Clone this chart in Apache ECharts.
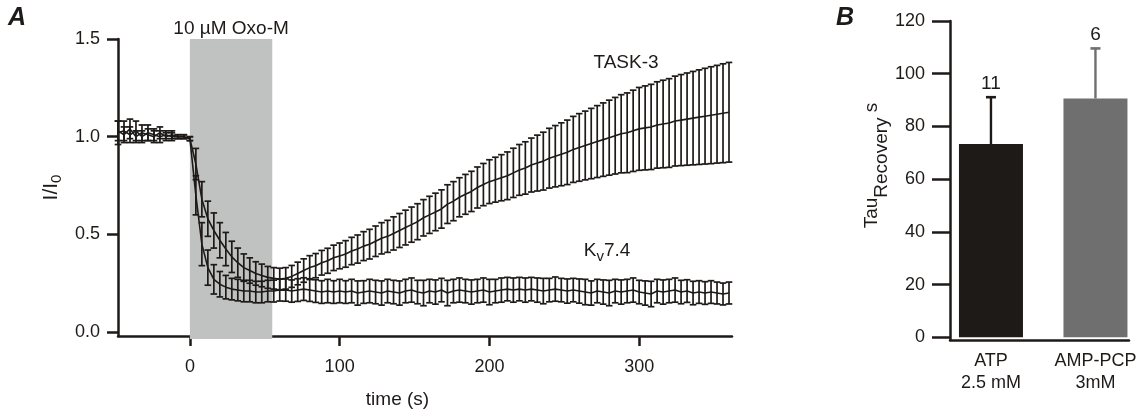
<!DOCTYPE html>
<html><head><meta charset="utf-8">
<script src="https://cdn.jsdelivr.net/npm/echarts@6/dist/echarts.min.js"></script>
<style>html,body{margin:0;padding:0;background:#fff}#c{width:1146px;height:414px}</style>
</head><body><div id="c"></div>
<script>
// ---------- Panel A data ----------
const times = [-48,-44,-40,-36,-32,-28,-24,-20,-16,-12,-8,-4,
  0,4,8,12,16,20,24,28,32,36,40,44,48,52,56,60,64,68,72,76,80,84,88,92,96,
  100,104,108,112,116,120,124,128,132,136,140,144,148,152,156,160,164,168,172,176,180,184,188,192,196,
  200,204,208,212,216,220,224,228,232,236,240,244,248,252,256,260,264,268,272,276,280,284,288,292,296,
  300,304,308,312,316,320,324,328,332,336,340,344,348,352,356,360];

const task3Mean = [1.02,1.03,1.01,1.03,1.00,1.02,1.01,1.00,1.01,1.00,1.00,1.00,
  0.99,0.86,0.68,0.58,0.52,0.47,0.425,0.385,0.355,0.33,0.315,0.30,0.29,0.28,0.275,0.272,0.275,0.285,0.30,0.315,0.33,0.34,0.355,0.365,0.38,
  0.39,0.40,0.415,0.425,0.44,0.45,0.465,0.48,0.49,0.505,0.52,0.535,0.55,0.565,0.585,0.60,0.615,0.63,0.655,0.67,0.69,0.705,0.72,0.74,0.755,
  0.77,0.78,0.79,0.80,0.815,0.83,0.84,0.855,0.865,0.875,0.89,0.90,0.91,0.92,0.935,0.945,0.955,0.965,0.975,0.985,0.995,1.005,1.015,1.02,1.03,
  1.04,1.045,1.05,1.06,1.065,1.07,1.08,1.085,1.09,1.095,1.10,1.105,1.11,1.115,1.12,1.125];

const task3Err = [0.06,0.05,0.04,0.05,0.03,0.04,0.03,0.03,0.02,0.02,0.01,0.01,
  0.01,0.08,0.09,0.09,0.09,0.09,0.085,0.08,0.075,0.07,0.065,0.06,0.058,0.056,0.055,0.055,0.055,0.056,0.058,0.06,0.061,0.062,0.063,0.064,0.065,
  0.066,0.068,0.07,0.072,0.074,0.076,0.078,0.08,0.082,0.085,0.087,0.089,0.09,0.092,0.093,0.095,0.096,0.098,0.099,0.10,0.10,0.102,0.103,0.105,0.108,
  0.112,0.115,0.118,0.122,0.126,0.13,0.134,0.138,0.143,0.148,0.153,0.157,0.161,0.165,0.169,0.173,0.176,0.18,0.184,0.188,0.192,0.196,0.2,0.204,0.208,
  0.212,0.215,0.218,0.221,0.224,0.227,0.23,0.233,0.236,0.239,0.242,0.245,0.248,0.25,0.253,0.255];

const kvMean = [1.03,1.01,1.04,1.00,1.02,1.01,1.00,1.02,1.00,1.01,1.00,1.00,
  0.99,0.70,0.45,0.33,0.27,0.245,0.23,0.22,0.215,0.21,0.21,0.205,0.205,0.21,0.21,0.215,0.215,0.21,0.215,0.22,0.215,0.21,0.205,0.21,0.205,
  0.21,0.205,0.21,0.20,0.205,0.21,0.205,0.20,0.21,0.205,0.20,0.21,0.215,0.205,0.20,0.21,0.205,0.215,0.20,0.21,0.215,0.21,0.205,0.21,0.215,
  0.205,0.21,0.215,0.22,0.215,0.22,0.215,0.22,0.215,0.21,0.215,0.22,0.215,0.21,0.215,0.21,0.205,0.20,0.21,0.205,0.20,0.21,0.205,0.21,0.215,
  0.205,0.20,0.195,0.21,0.205,0.21,0.215,0.205,0.21,0.20,0.205,0.20,0.205,0.20,0.195,0.20];

const kvErr = [0.05,0.04,0.05,0.03,0.04,0.03,0.03,0.03,0.02,0.02,0.01,0.01,
  0.01,0.10,0.11,0.09,0.075,0.065,0.06,0.055,0.055,0.055,0.055,0.055,0.055,0.055,0.056,0.056,0.057,0.057,0.058,0.058,0.058,0.058,0.058,0.06,0.058,
  0.06,0.058,0.06,0.062,0.058,0.06,0.06,0.062,0.06,0.06,0.062,0.06,0.062,0.06,0.065,0.06,0.062,0.06,0.065,0.06,0.062,0.06,0.062,0.06,0.062,
  0.065,0.06,0.062,0.06,0.062,0.06,0.062,0.06,0.062,0.065,0.06,0.062,0.06,0.062,0.06,0.062,0.065,0.062,0.06,0.062,0.065,0.06,0.062,0.06,0.062,
  0.06,0.062,0.065,0.06,0.062,0.06,0.062,0.06,0.058,0.06,0.058,0.058,0.058,0.056,0.056,0.056];

const oxoWindow = [0, 55];
const oxoLabel = '10 µM Oxo-M';
const xTicksA = [0, 100, 200, 300];
const yTicksA = [0, 0.5, 1.0, 1.5];

// ---------- Panel B data ----------
const barCategories = ['ATP\n2.5 mM', 'AMP-PCP\n3mM'];
const barPositions = [1, 2];
const barValues = [73.3, 90.6];
const barErrors = [17.8, 19.0];
const barN = ['11', '6'];
const yTicksB = [0, 20, 40, 60, 80, 100, 120];

// ---------- styles ----------
const INK = '#1e1a18';
const FONT = '"Liberation Sans", Arial, Helvetica, sans-serif';
const barColors = ['#1e1a18', '#6f6f6f'];
const Y_MIN_A = -0.02, Y_MAX_A = 1.5;

function errData(mean, err) {
  return times.map((t, i) => [t, mean[i] - err[i], mean[i] + err[i]]);
}
function lineData(mean) { return times.map((t, i) => [t, mean[i]]); }

function renderErr(params, api) {
  const x = api.value(0);
  const lo = api.coord([x, api.value(1)]);
  const hi = api.coord([x, api.value(2)]);
  const w = 3.3;
  const style = { stroke: INK, lineWidth: 1.7 };
  return { type: 'group', children: [
    { type: 'line', shape: { x1: lo[0], y1: lo[1], x2: hi[0], y2: hi[1] }, style },
    { type: 'line', shape: { x1: lo[0] - w, y1: lo[1], x2: lo[0] + w, y2: lo[1] }, style },
    { type: 'line', shape: { x1: hi[0] - w, y1: hi[1], x2: hi[0] + w, y2: hi[1] }, style }
  ]};
}

function renderShade(params, api) {
  const p0 = api.coord([api.value(0), Y_MAX_A]);
  const p1 = api.coord([api.value(1), Y_MIN_A]);
  return { type: 'group', children: [
    { type: 'rect', shape: { x: p0[0], y: p0[1], width: p1[0] - p0[0], height: p1[1] - p0[1] + 3 },
      style: { fill: '#c0c2c2' } },
    { type: 'text', x: (p0[0] + p1[0]) / 2, y: p0[1] - 1,
      style: { text: oxoLabel, fill: INK, fontSize: 19, fontFamily: FONT, align: 'center', verticalAlign: 'bottom' } }
  ]};
}

function renderBarErr(params, api) {
  const i = params.dataIndex;
  const x = api.value(0), v = api.value(1), e = api.value(2);
  const b = api.coord([x, v]);
  const t = api.coord([x, v + e]);
  const col = barColors[i];
  return { type: 'group', children: [
    { type: 'line', shape: { x1: b[0], y1: b[1], x2: t[0], y2: t[1] }, style: { stroke: col, lineWidth: 2.4 } },
    { type: 'line', shape: { x1: t[0] - 5, y1: t[1], x2: t[0] + 5, y2: t[1] }, style: { stroke: col, lineWidth: 2.6 } },
    { type: 'text', x: t[0], y: t[1] - 4,
      style: { text: barN[i], fill: INK, fontSize: 19, fontFamily: FONT, align: 'center', verticalAlign: 'bottom' } }
  ]};
}

const axisLineStyle = { color: INK, width: 2.5 };
const labelStyle = { color: INK, fontSize: 18, fontFamily: FONT };

const chart = echarts.init(document.getElementById('c'), null, { renderer: 'canvas' });
chart.setOption({
  animation: false,
  backgroundColor: '#ffffff',
  textStyle: { fontFamily: FONT, color: INK },
  grid: [
    { left: 118, top: 39, width: 614, height: 297 },
    { left: 950, top: 21, width: 179, height: 319 }
  ],
  xAxis: [
    { gridIndex: 0, type: 'value', min: -48, max: 362,
      axisLine: { onZero: false, lineStyle: axisLineStyle },
      axisTick: { customValues: xTicksA, length: 10, lineStyle: axisLineStyle },
      axisLabel: Object.assign({ customValues: xTicksA, margin: 22 }, labelStyle),
      splitLine: { show: false },
      name: 'time (s)', nameLocation: 'middle', nameGap: 54,
      nameTextStyle: { fontSize: 19, color: INK, fontFamily: FONT, padding: [0, 55, 0, 0] } },
    { gridIndex: 1, type: 'value', min: 0.608, max: 2.321,
      axisLine: { onZero: false, lineStyle: axisLineStyle },
      axisTick: { show: false },
      axisLabel: Object.assign({ customValues: barPositions, margin: 10, lineHeight: 22,
        formatter: v => barCategories[barPositions.indexOf(v)] }, labelStyle),
      splitLine: { show: false } }
  ],
  yAxis: [
    { gridIndex: 0, type: 'value', min: Y_MIN_A, max: Y_MAX_A,
      axisLine: { show: true, onZero: false, lineStyle: axisLineStyle },
      axisTick: { show: true, customValues: yTicksA, length: 11, lineStyle: axisLineStyle },
      axisLabel: Object.assign({ customValues: yTicksA, margin: 18, formatter: v => v.toFixed(1) }, labelStyle),
      splitLine: { show: false },
      name: '{m|I/I}{s|0}', nameLocation: 'middle', nameGap: 40,
      nameTextStyle: { rich: {
        m: { fontSize: 21, fontFamily: FONT, color: INK },
        s: { fontSize: 15, fontFamily: FONT, color: INK, padding: [11, 0, 0, 0] } } } },
    { gridIndex: 1, type: 'value', min: -1, max: 120,
      axisLine: { show: true, onZero: false, lineStyle: axisLineStyle },
      axisTick: { show: true, customValues: yTicksB, length: 18, lineStyle: axisLineStyle },
      axisLabel: Object.assign({ customValues: yTicksB, margin: 25 }, labelStyle),
      splitLine: { show: false },
      name: '{m|Tau}{s|Recovery}{m| s}', nameLocation: 'middle', nameGap: 58,
      nameTextStyle: { padding: [0, 0, 0, 30], rich: {
        m: { fontSize: 19, fontFamily: FONT, color: INK },
        s: { fontSize: 19, fontFamily: FONT, color: INK, padding: [20, 0, 0, 0] } } } }
  ],
  series: [
    { type: 'custom', name: 'oxo', xAxisIndex: 0, yAxisIndex: 0, z: 1,
      data: [oxoWindow], encode: { x: [0, 1] }, renderItem: renderShade, silent: true },
    { type: 'custom', name: 'TASK-3 err', xAxisIndex: 0, yAxisIndex: 0, z: 3,
      data: errData(task3Mean, task3Err), encode: { x: 0, y: [1, 2] }, renderItem: renderErr },
    { type: 'custom', name: 'Kv7.4 err', xAxisIndex: 0, yAxisIndex: 0, z: 3,
      data: errData(kvMean, kvErr), encode: { x: 0, y: [1, 2] }, renderItem: renderErr },
    { type: 'line', name: 'TASK-3', xAxisIndex: 0, yAxisIndex: 0, z: 4,
      data: lineData(task3Mean), showSymbol: false, symbol: 'none',
      lineStyle: { color: INK, width: 1.6 } },
    { type: 'line', name: 'Kv7.4', xAxisIndex: 0, yAxisIndex: 0, z: 4,
      data: lineData(kvMean), showSymbol: false, symbol: 'none',
      lineStyle: { color: INK, width: 1.6 } },
    { type: 'bar', name: 'Tau', xAxisIndex: 1, yAxisIndex: 1, barWidth: 64, z: 2,
      data: barPositions.map((p, i) => ({ value: [p, barValues[i]], itemStyle: { color: barColors[i] } })) },
    { type: 'custom', name: 'Tau err', xAxisIndex: 1, yAxisIndex: 1, z: 3,
      data: barPositions.map((p, i) => [p, barValues[i], barErrors[i]]),
      encode: { x: 0, y: 1 }, renderItem: renderBarErr }
  ],
  graphic: [
    { type: 'text', left: 8, top: 6, style: { text: 'A', fill: INK, font: 'italic bold 25px ' + FONT } },
    { type: 'text', left: 836, top: 6, style: { text: 'B', fill: INK, font: 'italic bold 25px ' + FONT } },
    { type: 'text', x: 626, y: 63, style: { text: 'TASK-3', fill: INK, fontSize: 19, fontFamily: FONT, align: 'center', verticalAlign: 'middle' } },
    { type: 'text', x: 607, y: 251, style: { text: '{a|K}{s|v}{a|7.4}', align: 'center', verticalAlign: 'middle',
      rich: { a: { fontSize: 19, fontFamily: FONT, fill: INK, color: INK },
              s: { fontSize: 15, fontFamily: FONT, fill: INK, color: INK, padding: [12, 0, 0, 0] } } } }
  ]
});
</script>
</body></html>
